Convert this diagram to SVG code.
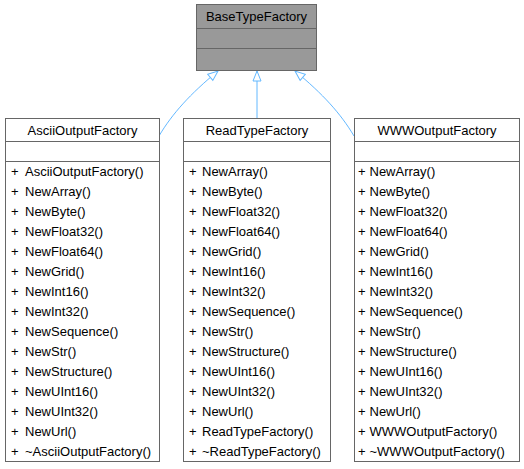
<svg xmlns="http://www.w3.org/2000/svg" width="524" height="469" viewBox="0 0 524 469">
<style>
.box{fill:#ffffff;stroke:#666666;stroke-width:1}
.base{fill:#999999;stroke:#666666;stroke-width:1}
.sep{stroke:#666666;stroke-width:1}
text{font-family:"Liberation Sans",Arial,Helvetica,sans-serif;font-size:13px;fill:#000000}
.t{text-anchor:middle}
.edge{fill:none;stroke:#63b8ff;stroke-width:1}
</style>
<defs>
<marker id="ah" viewBox="0 0 12 10" refX="11" refY="5" markerWidth="12" markerHeight="10" markerUnits="userSpaceOnUse" orient="auto">
<path d="M1,1 L11,5 L1,9 Z" fill="#ffffff" stroke="#63b8ff" stroke-width="1"/>
</marker>
</defs>
<rect width="524" height="469" fill="#ffffff"/>
<g id="connectors">
<path class="edge" d="M159,136 C172,114 190,94 218,71" marker-end="url(#ah)"/>
<path class="edge" d="M257,118 L257,71" marker-end="url(#ah)"/>
<path class="edge" d="M354,136 C341,114 323,94 295,71" marker-end="url(#ah)"/>
</g>
<g id="BaseTypeFactory">
<rect class="base" x="196.5" y="4.5" width="120" height="66"/>
<line class="sep" x1="196.5" y1="28.5" x2="316.5" y2="28.5"/>
<line class="sep" x1="196.5" y1="48.5" x2="316.5" y2="48.5"/>
<text class="t" x="256.5" y="21">BaseTypeFactory</text>
</g>
<g id="AsciiOutputFactory">
<rect class="box" x="5.5" y="118.5" width="154" height="343"/>
<line class="sep" x1="5.5" y1="141.5" x2="159.5" y2="141.5"/>
<line class="sep" x1="5.5" y1="161.5" x2="159.5" y2="161.5"/>
<text class="t" x="82.5" y="134.5">AsciiOutputFactory</text>
<text x="11" y="176">+</text><text x="25" y="176">AsciiOutputFactory()</text>
<text x="11" y="196">+</text><text x="25" y="196">NewArray()</text>
<text x="11" y="216">+</text><text x="25" y="216">NewByte()</text>
<text x="11" y="236">+</text><text x="25" y="236">NewFloat32()</text>
<text x="11" y="256">+</text><text x="25" y="256">NewFloat64()</text>
<text x="11" y="276">+</text><text x="25" y="276">NewGrid()</text>
<text x="11" y="296">+</text><text x="25" y="296">NewInt16()</text>
<text x="11" y="316">+</text><text x="25" y="316">NewInt32()</text>
<text x="11" y="336">+</text><text x="25" y="336">NewSequence()</text>
<text x="11" y="356">+</text><text x="25" y="356">NewStr()</text>
<text x="11" y="376">+</text><text x="25" y="376">NewStructure()</text>
<text x="11" y="396">+</text><text x="25" y="396">NewUInt16()</text>
<text x="11" y="416">+</text><text x="25" y="416">NewUInt32()</text>
<text x="11" y="436">+</text><text x="25" y="436">NewUrl()</text>
<text x="11" y="456">+</text><text x="25" y="456">~AsciiOutputFactory()</text>
</g>
<g id="ReadTypeFactory">
<rect class="box" x="183.5" y="118.5" width="147" height="343"/>
<line class="sep" x1="183.5" y1="141.5" x2="330.5" y2="141.5"/>
<line class="sep" x1="183.5" y1="161.5" x2="330.5" y2="161.5"/>
<text class="t" x="257" y="134.5">ReadTypeFactory</text>
<text x="189" y="176">+</text><text x="202" y="176">NewArray()</text>
<text x="189" y="196">+</text><text x="202" y="196">NewByte()</text>
<text x="189" y="216">+</text><text x="202" y="216">NewFloat32()</text>
<text x="189" y="236">+</text><text x="202" y="236">NewFloat64()</text>
<text x="189" y="256">+</text><text x="202" y="256">NewGrid()</text>
<text x="189" y="276">+</text><text x="202" y="276">NewInt16()</text>
<text x="189" y="296">+</text><text x="202" y="296">NewInt32()</text>
<text x="189" y="316">+</text><text x="202" y="316">NewSequence()</text>
<text x="189" y="336">+</text><text x="202" y="336">NewStr()</text>
<text x="189" y="356">+</text><text x="202" y="356">NewStructure()</text>
<text x="189" y="376">+</text><text x="202" y="376">NewUInt16()</text>
<text x="189" y="396">+</text><text x="202" y="396">NewUInt32()</text>
<text x="189" y="416">+</text><text x="202" y="416">NewUrl()</text>
<text x="189" y="436">+</text><text x="202" y="436">ReadTypeFactory()</text>
<text x="189" y="456">+</text><text x="202" y="456">~ReadTypeFactory()</text>
</g>
<g id="WWWOutputFactory">
<rect class="box" x="354.5" y="118.5" width="165" height="343"/>
<line class="sep" x1="354.5" y1="141.5" x2="519.5" y2="141.5"/>
<line class="sep" x1="354.5" y1="161.5" x2="519.5" y2="161.5"/>
<text class="t" x="437" y="134.5">WWWOutputFactory</text>
<text x="358" y="176">+</text><text x="369.5" y="176">NewArray()</text>
<text x="358" y="196">+</text><text x="369.5" y="196">NewByte()</text>
<text x="358" y="216">+</text><text x="369.5" y="216">NewFloat32()</text>
<text x="358" y="236">+</text><text x="369.5" y="236">NewFloat64()</text>
<text x="358" y="256">+</text><text x="369.5" y="256">NewGrid()</text>
<text x="358" y="276">+</text><text x="369.5" y="276">NewInt16()</text>
<text x="358" y="296">+</text><text x="369.5" y="296">NewInt32()</text>
<text x="358" y="316">+</text><text x="369.5" y="316">NewSequence()</text>
<text x="358" y="336">+</text><text x="369.5" y="336">NewStr()</text>
<text x="358" y="356">+</text><text x="369.5" y="356">NewStructure()</text>
<text x="358" y="376">+</text><text x="369.5" y="376">NewUInt16()</text>
<text x="358" y="396">+</text><text x="369.5" y="396">NewUInt32()</text>
<text x="358" y="416">+</text><text x="369.5" y="416">NewUrl()</text>
<text x="358" y="436">+</text><text x="369.5" y="436">WWWOutputFactory()</text>
<text x="358" y="456">+</text><text x="369.5" y="456">~WWWOutputFactory()</text>
</g>
</svg>
